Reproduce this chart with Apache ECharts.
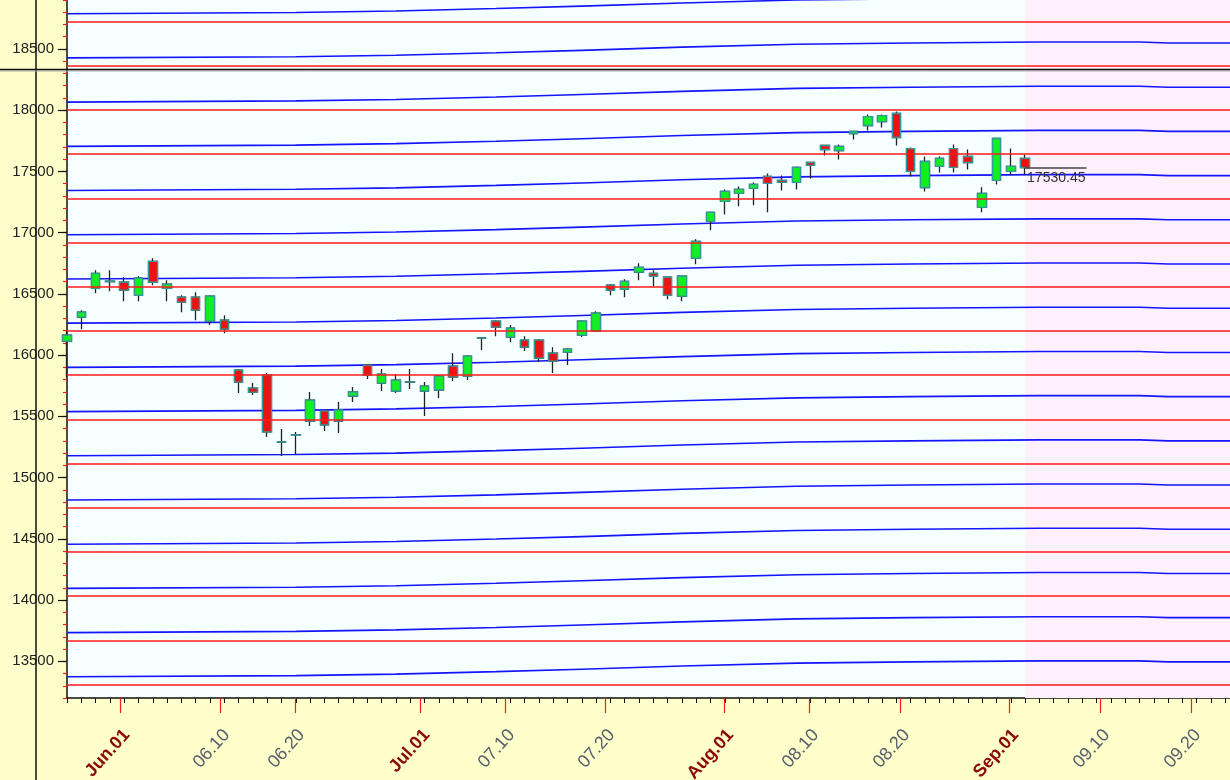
<!DOCTYPE html>
<html>
<head>
<meta charset="utf-8">
<title>Candles</title>
<script src="https://cdn.jsdelivr.net/npm/echarts@6/dist/echarts.min.js"></script>
<style>
  html, body { margin: 0; padding: 0; background: #ffffcc; }
  #chart { width: 1230px; height: 780px; }
</style>
</head>
<body>
<div id="chart"></div>
<script>
// x is the session number; the plot ends part way into the 82nd slot
var sessionMax = 81.33;
var futureStart = 67;

// OHLC, one entry per session from 0
var opens = [16114, 16310, 16546, 16600, 16595, 16489, 16766, 16546, 16473, 16473,
  16277, 16285, 15878, 15731, 15837, 15293, 15350, 15462, 15544, 15462,
  15666, 15919, 15772, 15707, 15782, 15707, 15715, 15910, 15829, 16141,
  16277, 16147, 16122, 16122, 16016, 16025, 16163, 16196, 16571, 16538,
  16677, 16668, 16636, 16481, 16791, 17092, 17255, 17321, 17361, 17459,
  17427, 17410, 17573, 17712, 17671, 17810, 17875, 17907, 17973, 17687,
  17369, 17541, 17687, 17622, 17206, 17427, 17500, 17606];
var closes = [16163, 16351, 16668, 16605, 16530, 16628, 16595, 16579, 16432, 16367,
  16481, 16212, 15780, 15698, 15373, 15290, 15348, 15633, 15430, 15552,
  15699, 15837, 15845, 15796, 15780, 15747, 15829, 15821, 15992, 16139,
  16228, 16220, 16065, 15976, 15951, 16049, 16277, 16343, 16530, 16603,
  16717, 16644, 16489, 16644, 16929, 17166, 17337, 17353, 17394, 17402,
  17410, 17533, 17549, 17679, 17704, 17826, 17948, 17956, 17777, 17500,
  17581, 17606, 17533, 17573, 17321, 17769, 17541, 17530.45];
var lows = [15821, 16212, 16505, 16522, 16440, 16440, 16571, 16440, 16351, 16285,
  16245, 16179, 15690, 15674, 15332, 15177, 15193, 15421, 15381, 15364,
  15617, 15805, 15707, 15690, 15723, 15503, 15650, 15788, 15796, 16041,
  16155, 16106, 16033, 15943, 15853, 15919, 16147, 16188, 16489, 16473,
  16611, 16563, 16457, 16440, 16742, 17019, 17149, 17215, 17223, 17166,
  17345, 17353, 17443, 17630, 17598, 17761, 17834, 17858, 17712, 17459,
  17337, 17492, 17492, 17516, 17166, 17394, 17476, 17476];
var highs = [16196, 16367, 16693, 16693, 16636, 16644, 16791, 16611, 16489, 16514,
  16489, 16326, 15886, 15772, 15853, 15397, 15373, 15699, 15552, 15617,
  15739, 15927, 15886, 15845, 15886, 15780, 15837, 16016, 15998, 16145,
  16285, 16245, 16155, 16131, 16065, 16057, 16285, 16359, 16580, 16620,
  16750, 16693, 16644, 16650, 16946, 17172, 17353, 17378, 17410, 17484,
  17467, 17541, 17580, 17718, 17720, 17830, 17964, 17964, 17989, 17695,
  17622, 17622, 17720, 17679, 17370, 17775, 17687, 17638];

// horizontal price bands
var redLevels = [18725, 18364, 18003, 17642, 17281, 16920, 16559, 16198,
  15837, 15476, 15115, 14754, 14393, 14032, 13671, 13310];
var blueLevels = [18788, 18427, 18066, 17705, 17344, 16983, 16622, 16261,
  15900, 15539, 15178, 14817, 14456, 14095, 13734, 13373];
// slow rise of the blue bands, read at a few sessions
var blueKeyIdx = [0, 16, 23, 30, 36, 43, 51, 59, 68, 75, 77, 82];
var blueDrift = [0, 10, 22, 42, 62, 88, 112, 122, 130, 130, 122, 122];

// axis ticks
var yTicks = [13500, 14000, 14500, 15000, 15500, 16000, 16500, 17000, 17500, 18000, 18500];
var xTickPos = [3.71, 10.70, 15.94, 24.69, 30.63, 37.62, 45.94, 51.89, 58.25, 65.87, 72.24, 78.6];
var xTickLabels = ['Jun.01', '06.10', '06.20', 'Jul.01', '07.10', '07.20',
  'Aug.01', '08.10', '08.20', 'Sep.01', '09.10', '09.20'];
var monthStart = ['Jun.01', 'Jul.01', 'Aug.01', 'Sep.01'];

var lastClose = closes[closes.length - 1];

var candleFull = [];
var candleBody = [];
for (var i = 0; i < opens.length; i++) {
  candleFull.push([i, opens[i], closes[i], lows[i], highs[i]]);
  candleBody.push([i, opens[i], closes[i], Math.min(opens[i], closes[i]), Math.max(opens[i], closes[i])]);
}

var series = [];

// pink future area
series.push({
  type: 'line', data: [], silent: true, z: 1,
  markArea: {
    silent: true,
    itemStyle: { color: '#fff0fd' },
    data: [[{ xAxis: futureStart }, { xAxis: sessionMax }]]
  }
});

// red flat bands
series.push({
  type: 'line', data: [], silent: true, z: 2,
  markLine: {
    silent: true, symbol: 'none', animation: false,
    label: { show: false },
    lineStyle: { color: '#ff1a1a', width: 1.6, type: 'solid' },
    data: redLevels.map(function (v) { return { yAxis: v }; })
  }
});

// blue rising bands
blueLevels.forEach(function (lv) {
  var d = blueKeyIdx.map(function (k, j) { return [k, lv + blueDrift[j]]; });
  series.push({
    type: 'line', data: d, symbol: 'none', silent: true, z: 2,
    lineStyle: { color: '#1414ff', width: 1.6 }
  });
});

// wicks
series.push({
  type: 'candlestick', data: candleFull, barWidth: 9, z: 3, silent: true,
  encode: { x: 0, y: [1, 2, 3, 4] },
  itemStyle: { color: '#11ee22', color0: '#ee1111', borderColor: '#222', borderColor0: '#222', borderWidth: 1.3 }
});
// bodies
series.push({
  type: 'candlestick', data: candleBody, barWidth: 9, z: 4, silent: true,
  encode: { x: 0, y: [1, 2, 3, 4] },
  itemStyle: { color: '#11ee22', color0: '#ee1111', borderColor: '#339a9a', borderColor0: '#339a9a', borderWidth: 1.3 },
  markLine: {
    silent: true, symbol: 'none', animation: false,
    lineStyle: { color: '#444', width: 1.5, type: 'solid' },
    label: {
      position: 'insideStartBottom', color: '#333', fontSize: 14, fontFamily: 'Arial',
      distance: [2, 3],
      formatter: function () { return lastClose.toFixed(2); }
    },
    data: [[{ coord: [futureStart, lastClose] }, { coord: [71.3, lastClose] }]]
  }
});

var myChart = echarts.init(document.getElementById('chart'));
myChart.setOption({
  animation: false,
  backgroundColor: '#ffffcc',
  grid: {
    left: 67, right: 0, top: 0, bottom: 82,
    outerBoundsMode: 'none', containLabel: false,
    show: true, backgroundColor: '#f5ffff', borderWidth: 0
  },
  xAxis: [
    {
      type: 'value', min: 0, max: sessionMax, interval: 1,
      axisLine: { lineStyle: { color: '#111', width: 1.5 } },
      axisTick: { length: 5, lineStyle: { color: '#111' } },
      axisLabel: { show: false },
      splitLine: { show: false }
    },
    {
      type: 'value', position: 'bottom', min: 0, max: sessionMax,
      axisLine: { show: false },
      splitLine: { show: false },
      axisTick: { customValues: xTickPos, length: 15, lineStyle: { color: '#ff1a1a', width: 1.2 } },
      axisLabel: {
        customValues: xTickPos, rotate: 48, margin: 28, verticalAlign: 'top',
        formatter: function (v) {
          for (var j = 0; j < xTickPos.length; j++) {
            if (Math.abs(xTickPos[j] - v) < 1e-6) {
              var t = xTickLabels[j];
              return monthStart.indexOf(t) >= 0 ? '{m|' + t + '}' : '{d|' + t + '}';
            }
          }
          return '';
        },
        rich: {
          m: { color: '#8b0a0a', fontWeight: 'bold', fontSize: 18, fontFamily: 'Arial' },
          d: { color: '#56606c', fontSize: 18, fontFamily: 'Arial' }
        }
      }
    }
  ],
  yAxis: [
    {
      type: 'value', min: 13200, max: 18900, interval: 100,
      axisLine: { show: true, lineStyle: { color: '#111', width: 1.5 } },
      axisTick: { show: true, length: 4, lineStyle: { color: '#ff1a1a', width: 1.2 } },
      axisLabel: { show: false },
      splitLine: { show: false }
    },
    {
      type: 'value', position: 'left', min: 13200, max: 18900,
      axisLine: { show: false },
      axisTick: { show: true, customValues: yTicks, length: 9, lineStyle: { color: '#111', width: 1.2 } },
      axisLabel: {
        customValues: yTicks, margin: 13, color: '#222', fontSize: 15, fontFamily: 'Arial',
        formatter: function (v) { return String(v); }
      },
      splitLine: { show: false }
    }
  ],
  graphic: [
    { type: 'line', z: 100, silent: true, shape: { x1: 36, y1: 0, x2: 36, y2: 780 }, style: { stroke: '#111', lineWidth: 1.5 } },
    { type: 'line', z: 100, silent: true, shape: { x1: 0, y1: 71, x2: 1230, y2: 71 }, style: { stroke: '#aaa', lineWidth: 1 } },
    { type: 'line', z: 101, silent: true, shape: { x1: 0, y1: 69.5, x2: 1230, y2: 69.5 }, style: { stroke: '#111', lineWidth: 1.5 } }
  ],
  series: series
});
</script>
</body>
</html>
